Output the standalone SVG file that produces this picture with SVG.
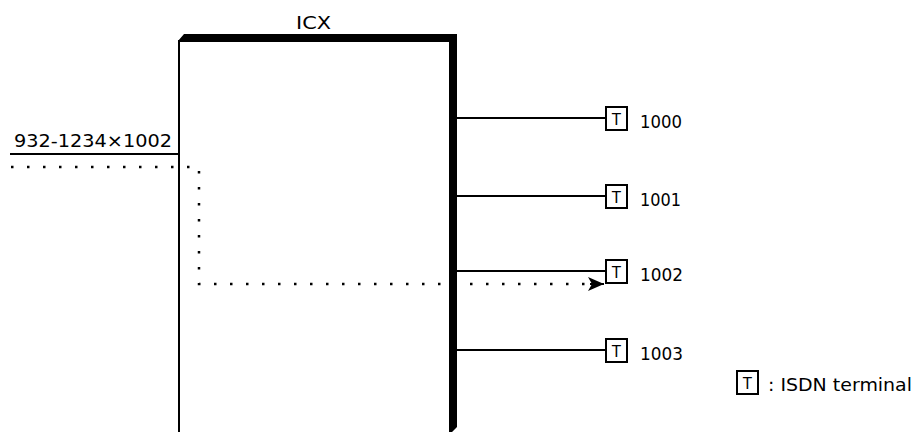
<svg xmlns="http://www.w3.org/2000/svg" width="917" height="432" viewBox="0 0 917 432">
<style>
text{font-family:"DejaVu Sans","Liberation Sans",sans-serif;fill:#000;font-size:18.5px}
.ln{stroke:#000;stroke-width:2;fill:none}
.dot{stroke:#000;stroke-width:2.5;fill:none;stroke-dasharray:2.5 13.5}
.tb{fill:#fff;stroke:#000;stroke-width:2}
.tt{font-size:16px;text-anchor:middle;font-family:"Liberation Sans",sans-serif}
</style>
<defs>
<marker id="ah" viewBox="0 0 16 14" refX="16" refY="7" markerWidth="16" markerHeight="14" markerUnits="userSpaceOnUse" orient="auto">
<path d="M0,0 L16,7 L0,14 L4,7 Z" fill="#000"/>
</marker>
</defs>
<g id="icx">
<rect x="179" y="41" width="271" height="400" fill="#fff" stroke="#000" stroke-width="2"/>
<polygon points="178,41 184,34 457,34 457,427 452,432 449,432 449,42 178,42" fill="#000"/>
<text x="296" y="29" textLength="35" lengthAdjust="spacingAndGlyphs">ICX</text>
</g>
<g id="connectors">
<line class="ln" x1="10" y1="154" x2="179" y2="154"/>
<line class="ln" x1="457" y1="118" x2="606" y2="118"/>
<line class="ln" x1="457" y1="196" x2="606" y2="196"/>
<line class="ln" x1="457" y1="271" x2="606" y2="271"/>
<line class="ln" x1="457" y1="350" x2="606" y2="350"/>
<polyline class="dot" points="11,167 199,167 199,284 590,284"/>
<line class="ln" x1="590" y1="284" x2="604" y2="284" marker-end="url(#ah)" stroke-width="0"/>
</g>
<text x="14" y="147" textLength="158" lengthAdjust="spacingAndGlyphs">932-1234×1002</text>
<g id="t1000"><rect class="tb" x="606" y="107" width="21" height="23"/><text class="tt" x="616.5" y="124.5">T</text><text x="640" y="128" textLength="42" lengthAdjust="spacingAndGlyphs">1000</text></g>
<g id="t1001"><rect class="tb" x="606" y="185" width="21" height="23"/><text class="tt" x="616.5" y="202.5">T</text><text x="640" y="206" textLength="41" lengthAdjust="spacingAndGlyphs">1001</text></g>
<g id="t1002"><rect class="tb" x="606" y="260" width="21" height="23"/><text class="tt" x="616.5" y="277.5">T</text><text x="640" y="281" textLength="43" lengthAdjust="spacingAndGlyphs">1002</text></g>
<g id="t1003"><rect class="tb" x="606" y="339" width="21" height="23"/><text class="tt" x="616.5" y="356.5">T</text><text x="640" y="360" textLength="43" lengthAdjust="spacingAndGlyphs">1003</text></g>
<g id="legend"><rect class="tb" x="737" y="371" width="21" height="23"/><text class="tt" x="747.5" y="388.5">T</text><text x="768" y="391" textLength="144" lengthAdjust="spacingAndGlyphs">: ISDN terminal</text></g>
</svg>
